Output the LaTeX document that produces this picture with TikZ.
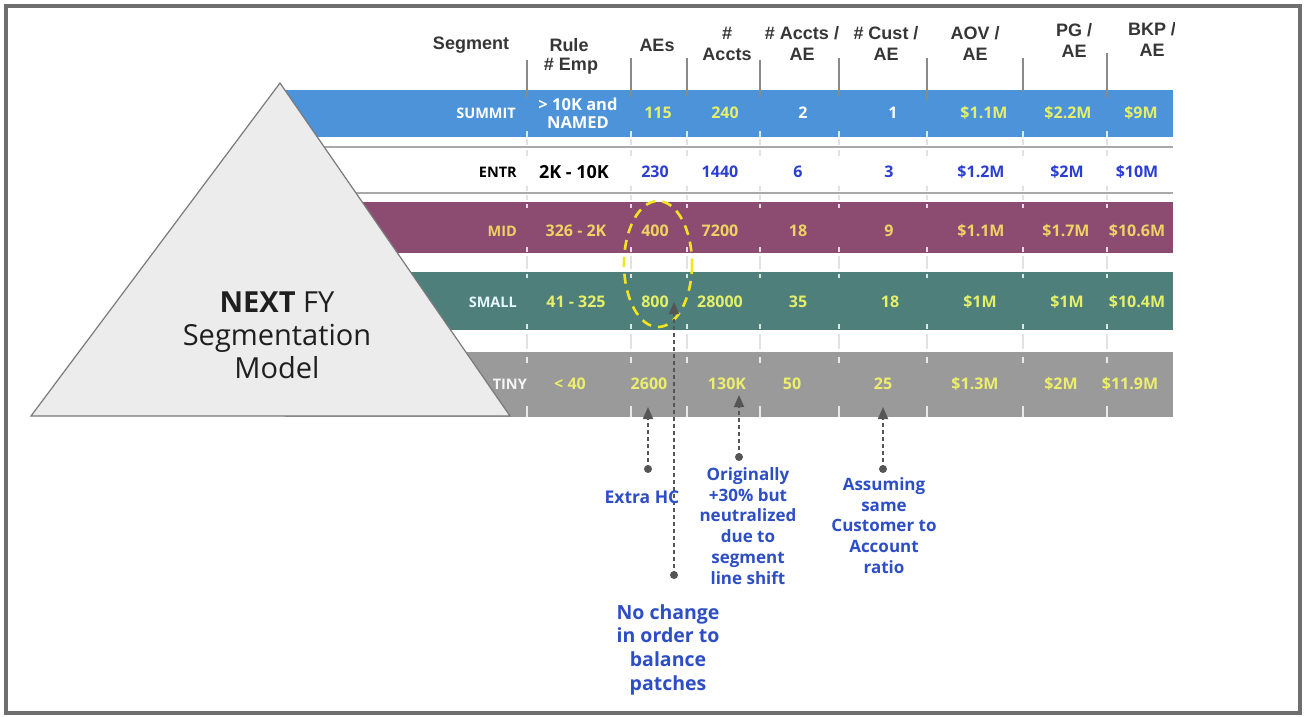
\documentclass[tikz,border=0pt]{standalone}
\usepackage{fontspec}
\setmainfont{Open Sans}
\newfontfamily\hdrfont{Liberation Sans}
\usetikzlibrary{arrows.meta}
\definecolor{framegray}{HTML}{6E6E6E}
\definecolor{summitblue}{HTML}{4C93DA}
\definecolor{midpurple}{HTML}{8C4C72}
\definecolor{smallteal}{HTML}{4E7F7A}
\definecolor{tinygray}{HTML}{9A9A9A}
\definecolor{trifill}{HTML}{ECECEC}
\definecolor{triline}{HTML}{7A7A7A}
\definecolor{sepgray}{HTML}{A9A9A9}
\definecolor{hdrtext}{HTML}{363636}
\definecolor{ygreen}{HTML}{E4F06A}
\definecolor{gold}{HTML}{F0D264}
\definecolor{tinyyellow}{HTML}{ECEE6C}
\definecolor{entblue}{HTML}{2B3ED2}
\definecolor{annblue}{HTML}{2E4EC6}
\definecolor{anngray}{HTML}{555555}
\definecolor{ellyellow}{HTML}{F2E41E}
\definecolor{colline}{HTML}{8A8A8A}
\definecolor{gapline}{HTML}{E2E2E2}
\tikzset{
  hdr/.style={font=\hdrfont\bfseries\fontsize{18}{21}\selectfont, text=hdrtext, align=center, inner sep=0pt},
  val/.style={font=\bfseries\fontsize{16}{19}\selectfont, inner sep=0pt},
  lbl/.style={font=\bfseries\fontsize{14.5}{17}\selectfont, inner sep=0pt, anchor=east},
  ann/.style={font=\bfseries\fontsize{17}{20.8}\selectfont, text=annblue, align=center, inner sep=0pt},
  annarrow/.style={draw=anngray, line width=1.8pt, dash pattern=on 4pt off 3pt, -{Triangle[length=12pt,width=10pt]}},
  anndot/.style={fill=anngray},
  sepline/.style={draw=sepgray, line width=2.5pt},
  colmark/.style={draw=colline, line width=2pt},
  gapmark/.style={draw=gapline, line width=2pt},
  tick/.style={draw=white, line width=2pt, opacity=0.8},
}
\begin{document}
\begin{tikzpicture}[x=1pt,y=-1pt]
\useasboundingbox (0,0) rectangle (1306,717);
\fill[white] (0,0) rectangle (1306,717);
% bands
\fill[summitblue] (285,90) rectangle (1173,137);
\fill[midpurple] (285,202) rectangle (1173,253);
\fill[smallteal] (285,272) rectangle (1173,330);
\fill[tinygray] (285,352) rectangle (1173,417);
\draw[sepline] (285,147) -- (1173,147);
\draw[sepline] (285,193) -- (1173,193);
% column lines in header and gaps
\foreach \cx/\ya/\yb in {527/60/98,631/58/97,687/58/96,760/60/97,839/58/96,927/58/100,1023/58/92,1107/53/98}{
  \draw[colmark] (\cx,\ya) -- (\cx,\yb);
  \draw[gapmark] (\cx,139) -- (\cx,145);
  \draw[gapmark] (\cx,150) -- (\cx,156);
  \draw[gapmark] (\cx,186) -- (\cx,191);
  \draw[gapmark] (\cx,195) -- (\cx,200);
  \draw[gapmark] (\cx,256) -- (\cx,269);
  \draw[gapmark] (\cx,334) -- (\cx,349);
  \draw[tick] (\cx,131) -- (\cx,137);
  \draw[tick] (\cx,204) -- (\cx,208);
  \draw[tick] (\cx,247) -- (\cx,252);
  \draw[tick] (\cx,274) -- (\cx,278);
  \draw[tick] (\cx,324) -- (\cx,329);
  \draw[tick] (\cx,357) -- (\cx,363);
  \draw[tick] (\cx,406) -- (\cx,417);
}
% pyramid
\draw[fill=trifill, draw=triline, line width=1.2pt] (280,83) -- (510,416) -- (31,416) -- cycle;
\node[font=\fontsize{29}{33}\selectfont, align=center, inner sep=0pt, text=black!88] (title) at (277,335) {\textbf{NEXT} FY\\Segmentation\\Model};
% headers
\node[hdr] (hSeg) at (471,45) {Segment};
\node[hdr] (hRule) at (569,45) {Rule};
\node[hdr] (hEmp) at (571,66) {\# Emp};
\node[hdr] (hAEs) at (657,45) {AEs};
\node[hdr] (hAccts) at (727,43.5) {\#\\Accts};
\node[hdr] (hAPA) at (802,43.5) {\# Accts /\\AE};
\node[hdr] (hCPA) at (886,43.5) {\# Cust /\\AE};
\node[hdr] (hAOV) at (975,43.5) {AOV /\\AE};
\node[hdr] (hPG) at (1074,40.5) {PG /\\AE};
\begin{scope}
\clip (1100,0) rectangle (1174,100);
\node[hdr] (hBKP) at (1152,39) {BKP /\\AE};
\end{scope}
% SUMMIT row
\node[lbl, text=white] (lSummit) at (516,113) {SUMMIT};
\node[val, text=white, align=center, font=\bfseries\fontsize{16.5}{18}\selectfont] (rSummit) at (578,113) {> 10K and\\NAMED};
\node[val, text=ygreen] (aSummit) at (658,113) {115};
\node[val, text=ygreen] (nSummit) at (725,113) {240};
\node[val, text=white] (apaSummit) at (803,113) {2};
\node[val, text=white] (cpaSummit) at (893,113) {1};
\node[val, text=ygreen] (aovSummit) at (984,113) {\$1.1M};
\node[val, text=ygreen] (pgSummit) at (1068,113) {\$2.2M};
\node[val, text=ygreen] (bkpSummit) at (1141,113) {\$9M};
% ENTR row
\node[lbl, text=black] (lEntr) at (517,172) {ENTR};
\node[val, text=black, font=\bfseries\fontsize{18}{20}\selectfont] (rEntr) at (574,172) {2K - 10K};
\node[val, text=entblue] (aEntr) at (655,172) {230};
\node[val, text=entblue] (nEntr) at (720,172) {1440};
\node[val, text=entblue] (apaEntr) at (798,172) {6};
\node[val, text=entblue] (cpaEntr) at (889,172) {3};
\node[val, text=entblue] (aovEntr) at (981,172) {\$1.2M};
\node[val, text=entblue] (pgEntr) at (1067,172) {\$2M};
\node[val, text=entblue] (bkpEntr) at (1137,172) {\$10M};
% MID row
\node[lbl, text=gold] (lMid) at (517,231) {MID};
\node[val, text=gold] (rMid) at (576,231) {326 - 2K};
\node[val, text=gold] (aMid) at (655,231) {400};
\node[val, text=gold] (nMid) at (720,231) {7200};
\node[val, text=gold] (apaMid) at (798,231) {18};
\node[val, text=gold] (cpaMid) at (889,231) {9};
\node[val, text=gold] (aovMid) at (981,231) {\$1.1M};
\node[val, text=gold] (pgMid) at (1066,231) {\$1.7M};
\node[val, text=gold] (bkpMid) at (1137,231) {\$10.6M};
% SMALL row
\node[lbl, text=white!90!cyan] (lSmall) at (517,302) {SMALL};
\node[val, text=ygreen] (rSmall) at (576,302) {41 - 325};
\node[val, text=ygreen] (aSmall) at (655,302) {800};
\node[val, text=ygreen] (nSmall) at (720,302) {28000};
\node[val, text=ygreen] (apaSmall) at (798,302) {35};
\node[val, text=ygreen] (cpaSmall) at (890,302) {18};
\node[val, text=ygreen] (aovSmall) at (980,302) {\$1M};
\node[val, text=ygreen] (pgSmall) at (1067,302) {\$1M};
\node[val, text=ygreen] (bkpSmall) at (1137,302) {\$10.4M};
% TINY row
\node[lbl, text=white!92!gray] (lTiny) at (527,384) {TINY};
\node[val, text=tinyyellow] (rTiny) at (570,384) {< 40};
\node[val, text=tinyyellow] (aTiny) at (649,384) {2600};
\node[val, text=tinyyellow] (nTiny) at (727,384) {130K};
\node[val, text=tinyyellow] (apaTiny) at (792,384) {50};
\node[val, text=tinyyellow] (cpaTiny) at (883,384) {25};
\node[val, text=tinyyellow] (aovTiny) at (975,384) {\$1.3M};
\node[val, text=tinyyellow] (pgTiny) at (1061,384) {\$2M};
\node[val, text=tinyyellow] (bkpTiny) at (1130,384) {\$11.9M};
% highlight ellipse
\draw[ellyellow, line width=2.6pt, dash pattern=on 10pt off 7pt] (658,264) ellipse [x radius=34, y radius=63];
% annotations
\coordinate (dExtra) at (648,469);
\coordinate (tExtra) at (648,407);
\coordinate (dNo) at (674,575);
\coordinate (tNo) at (674,302);
\coordinate (dOrig) at (739,457);
\coordinate (tOrig) at (739,395);
\coordinate (dAss) at (883,469);
\coordinate (tAss) at (883,407);
\draw[annarrow] (dExtra) -- (tExtra);
\draw[annarrow] (dNo) -- (tNo);
\draw[annarrow] (dOrig) -- (tOrig);
\draw[annarrow] (dAss) -- (tAss);
\fill[anndot] (dExtra) circle (4);
\fill[anndot] (dNo) circle (4);
\fill[anndot] (dOrig) circle (4);
\fill[anndot] (dAss) circle (4);
\node[ann, font=\bfseries\fontsize{17.5}{21}\selectfont] (nExtra) at (642,497) {Extra HC};
\node[ann] (nOrig) at (748,526) {Originally\\+30\% but\\neutralized\\due to\\segment\\line shift};
\node[ann] (nAss) at (884,525.5) {Assuming\\same\\Customer to\\Account\\ratio};
\node[ann, font=\bfseries\fontsize{19.5}{23.7}\selectfont] (nNo) at (668,649.5) {No change\\in order to\\balance\\patches};
% frame
\draw[framegray, line width=4pt] (6,6) rectangle (1300,713);
\end{tikzpicture}
\end{document}
